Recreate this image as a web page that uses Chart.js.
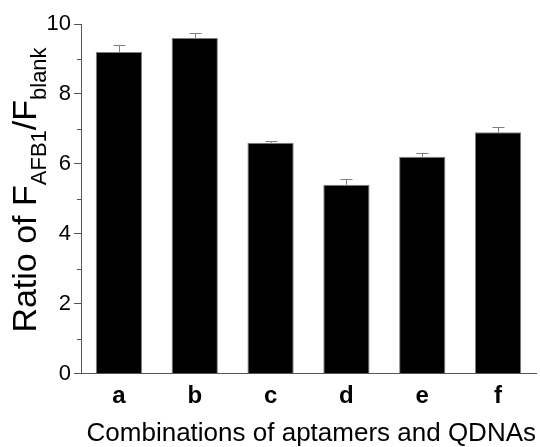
<!DOCTYPE html>
<html>
<head>
<meta charset="utf-8">
<script src="https://cdn.jsdelivr.net/npm/chart.js@4.4.1/dist/chart.umd.min.js"></script>
<style>
  html, body { margin: 0; padding: 0; background: #fff; }
  #wrap { width: 540px; height: 447px; }
</style>
</head>
<body>
<div id="wrap"><canvas id="c" width="540" height="447"></canvas></div>
<script>
const categories = ['a', 'b', 'c', 'd', 'e', 'f'];
const ratioValues = [9.2, 9.6, 6.6, 5.4, 6.2, 6.9];
const ratioErrors = [0.2, 0.14, 0.04, 0.17, 0.12, 0.16];
const yMajorTicks = [0, 2, 4, 6, 8, 10];
const yMinorTicks = [1, 3, 5, 7, 9];

const FONT = "'Liberation Sans', Arial, Helvetica, sans-serif";
const AXIS_COLOR = '#555555';

const extrasPlugin = {
  id: 'extras',
  afterDatasetsDraw(chart) {
    const ctx = chart.ctx;
    const x = chart.scales.x, y = chart.scales.y;
    ctx.save();
    ctx.strokeStyle = '#808080';
    ctx.lineWidth = 1;
    ratioValues.forEach((v, i) => {
      const px = Math.round(x.getPixelForValue(i)) + 0.5;
      const top = y.getPixelForValue(v);
      const eTop = Math.round(y.getPixelForValue(v + ratioErrors[i])) + 0.5;
      ctx.beginPath();
      ctx.moveTo(px, top);
      ctx.lineTo(px, eTop);
      ctx.moveTo(px - 6, eTop);
      ctx.lineTo(px + 6, eTop);
      ctx.stroke();
    });
    ctx.restore();
  },
  afterDraw(chart) {
    const ctx = chart.ctx;
    const y = chart.scales.y;
    const left = chart.chartArea.left;
    ctx.save();
    ctx.strokeStyle = AXIS_COLOR;
    ctx.lineWidth = 1;
    yMinorTicks.forEach(t => {
      const py = Math.round(y.getPixelForValue(t)) + 0.5;
      ctx.beginPath();
      ctx.moveTo(left - 4, py);
      ctx.lineTo(left, py);
      ctx.stroke();
    });
    ctx.restore();

    const parts = [
      { t: 'Ratio of F', size: 34, sub: false },
      { t: 'AFB1', size: 22, sub: true },
      { t: '/F', size: 34, sub: false },
      { t: 'blank', size: 22, sub: true }
    ];
    ctx.save();
    let total = 0;
    parts.forEach(p => { ctx.font = p.size + 'px ' + FONT; p.w = ctx.measureText(p.t).width; total += p.w; });
    const cy = 190;
    ctx.translate(36, cy);
    ctx.rotate(-Math.PI / 2);
    ctx.fillStyle = '#000';
    ctx.textBaseline = 'alphabetic';
    ctx.textAlign = 'left';
    let pos = -total / 2;
    parts.forEach(p => {
      ctx.font = p.size + 'px ' + FONT;
      ctx.fillText(p.t, pos, p.sub ? 10 : 0);
      pos += p.w;
    });
    ctx.restore();
  }
};

new Chart(document.getElementById('c'), {
  type: 'bar',
  data: {
    labels: categories,
    datasets: [{
      data: ratioValues,
      backgroundColor: '#000000',
      borderColor: '#808080',
      borderWidth: 1,
      barPercentage: 0.61,
      categoryPercentage: 1.0
    }]
  },
  options: {
    responsive: false,
    animation: false,
    devicePixelRatio: 1,
    layout: { padding: { top: 24, right: 4, bottom: 0, left: 0 } },
    plugins: { legend: { display: false }, tooltip: { enabled: false } },
    scales: {
      x: {
        grid: { display: false, drawTicks: false },
        border: { display: true, color: AXIS_COLOR, width: 1 },
        ticks: {
          color: '#000',
          font: { family: FONT, size: 24, weight: 'bold' },
          padding: 8,
          maxRotation: 0
        },
        title: {
          display: true,
          text: 'Combinations of aptamers and QDNAs',
          align: 'end',
          color: '#000',
          font: { family: FONT, size: 26, lineHeight: 1 },
          padding: { top: 0, bottom: 0 }
        },
        afterFit(scale) { scale.height = 73.5; }
      },
      y: {
        min: 0,
        max: 10,
        afterBuildTicks(scale) { scale.ticks = yMajorTicks.map(v => ({ value: v })); },
        grid: {
          display: true,
          drawOnChartArea: false,
          drawTicks: true,
          tickLength: 7,
          tickColor: AXIS_COLOR,
          tickWidth: 1
        },
        border: { display: true, color: AXIS_COLOR, width: 1 },
        ticks: {
          color: '#000',
          font: { family: FONT, size: 22 },
          padding: 3,
          callback: v => String(v)
        },
        afterFit(scale) { scale.width = 81; }
      }
    }
  },
  plugins: [extrasPlugin]
});
</script>
</body>
</html>
